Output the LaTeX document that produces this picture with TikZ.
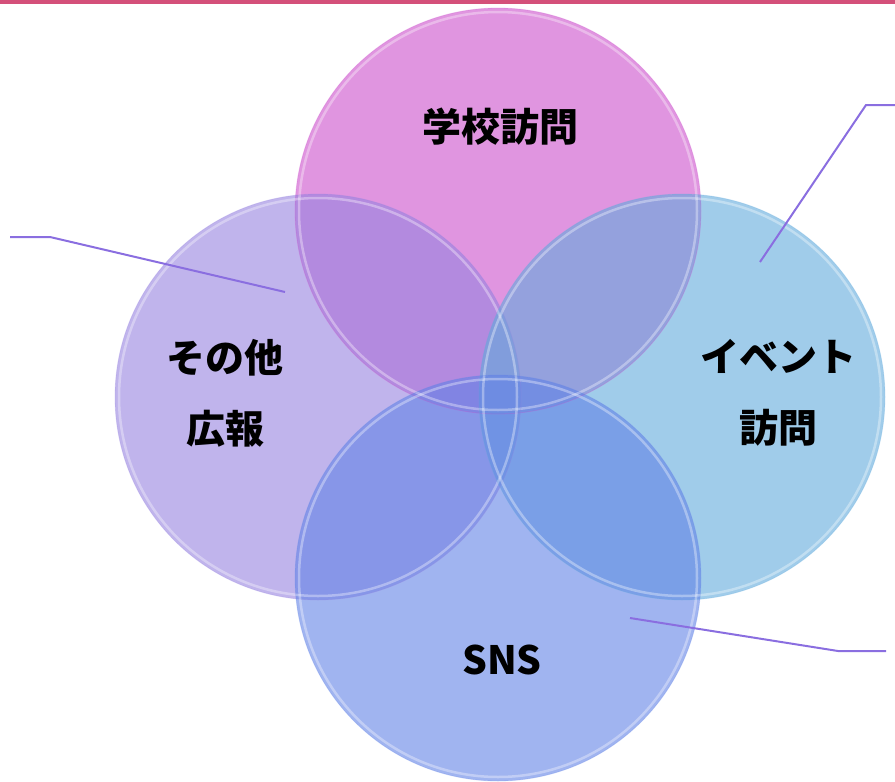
\documentclass[tikz,border=0pt]{standalone}
\usepackage{fontspec}
\newfontfamily\jp{Noto Sans CJK JP}

\definecolor{topline}{RGB}{212,80,122}
\definecolor{pinkc}{RGB}{203,78,203}
\definecolor{lavc}{RGB}{150,130,223}
\definecolor{skyc}{RGB}{97,170,220}
\definecolor{bluec}{RGB}{97,130,230}
\definecolor{leadc}{RGB}{138,110,224}

\tikzset{
    bubble/.style={fill=#1,fill opacity=0.6},
    rim/.style={draw=white,line width=2.5pt,draw opacity=0.35},
    edge/.style={draw=#1,line width=0.8pt,draw opacity=0.25},
    leader/.style={leadc,line width=2pt},
    label/.style={font=\jp\bfseries\fontsize{39}{71}\selectfont,align=center}
}

\begin{document}
\begin{tikzpicture}[x=1pt,y=-1pt]
    % Parameters
    \def\r{203}
    \pgfmathsetmacro\ri{\r-4}

    \useasboundingbox (0,0) rectangle (895,782);

    % Top rule
    \draw[topline,line width=3.5pt] (0,2) -- (895,2);

    % Circles
    \fill[bubble=pinkc] (498,211) circle (\r pt);
    \fill[bubble=lavc] (318,397) circle (\r pt);
    \fill[bubble=skyc] (682,397) circle (\r pt);
    \fill[bubble=bluec] (498,578) circle (\r pt);

    % Glass rims
    \foreach \cx/\cy/\c in {498/211/pinkc,318/397/lavc,682/397/skyc,498/578/bluec}
    {
        \draw[rim] (\cx,\cy) circle (\ri pt);
        \draw[edge=\c] (\cx,\cy) circle (\r pt);
    }

    % Labels
    \node[label] (school) at (500,127) {学校訪問};
    \node[label] (other) at (225,393) {その他\\広報};
    \node[label] (event) at (778,393) {イベント\\訪問};
    \node[label] (sns) at (502,660) {SNS};

    % Leader lines
    \coordinate (lA) at (285,292);
    \coordinate (lB) at (50,237);
    \coordinate (lC) at (10,237);
    \draw[leader] (lA) -- (lB) -- (lC);

    \coordinate (rA) at (760,262);
    \coordinate (rB) at (866,105);
    \coordinate (rC) at (895,105);
    \draw[leader] (rA) -- (rB) -- (rC);

    \coordinate (bA) at (630,618);
    \coordinate (bB) at (838,651);
    \coordinate (bC) at (886,651);
    \draw[leader] (bA) -- (bB) -- (bC);

\end{tikzpicture}
\end{document}
